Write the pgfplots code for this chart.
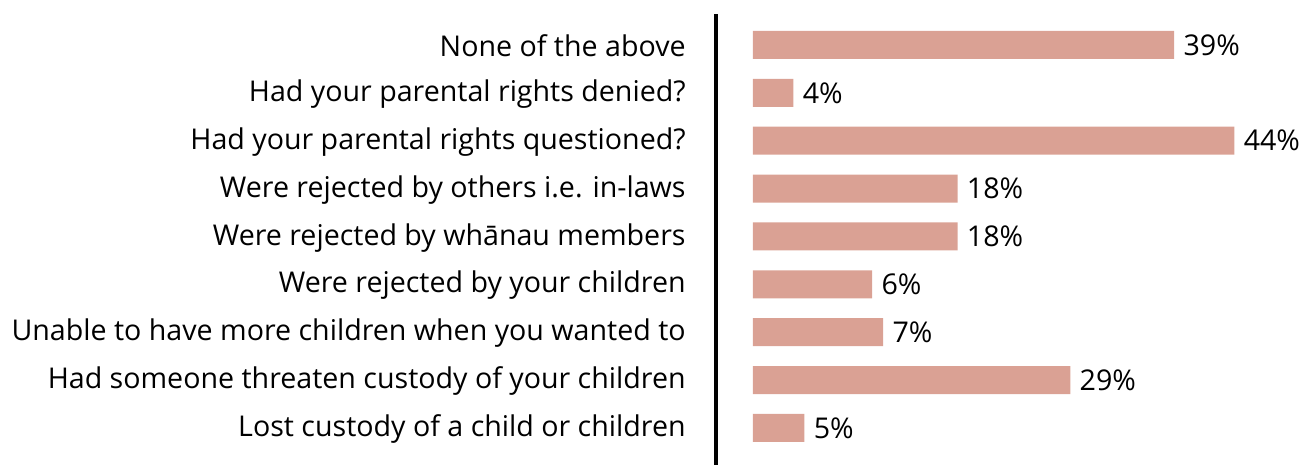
\documentclass[border=0pt]{standalone}
\usepackage{pgfplots}
\pgfplotsset{compat=1.18}
\usepackage{fontspec}
\setmainfont{Open Sans}
\definecolor{barc}{RGB}{218,161,148}
\begin{document}
\begin{tikzpicture}
\useasboundingbox (0,0) rectangle (655pt,232.5pt);
\begin{axis}[
  at={(358pt,0pt)}, anchor=south west,
  scale only axis,
  width=292pt, height=225.5pt,
  xmin=-3.38, xmax=50,
  ymin=-0.773, ymax=8.647,
  axis x line=none,
  axis y line*=left,
  axis line style={line width=2.4pt,-},
  ytick={0,...,8},
  yticklabels={Lost custody of a child or children,
    Had someone threaten custody of your children,
    Unable to have more children when you wanted to,
    Were rejected by your children,
    Were rejected by wh\={a}nau members,
    Were rejected by others i.e. in-laws,
    Had your parental rights questioned?,
    Had your parental rights denied?,
    None of the above},
  major tick length=0pt,
  y tick label style={font=\fontsize{14.3}{16}\selectfont, anchor=east, inner sep=0pt, xshift=-15pt, yshift=-0.6pt},
  xbar, bar width=14pt,
  point meta=explicit symbolic,
  nodes near coords,
  nodes near coords style={font=\fontsize{14.3}{16}\selectfont, anchor=west, inner sep=0pt, xshift=4.5pt},
  clip=false,
]
\addplot[fill=barc, draw=none] coordinates {
  (4.7,0) [5\%]
  (29.0,1) [29\%]
  (11.9,2) [7\%]
  (10.9,3) [6\%]
  (18.7,4) [18\%]
  (18.7,5) [18\%]
  (44.0,6) [44\%]
  (3.7,7) [4\%]
  (38.5,8) [39\%]
};
\end{axis}
\end{tikzpicture}
\end{document}
